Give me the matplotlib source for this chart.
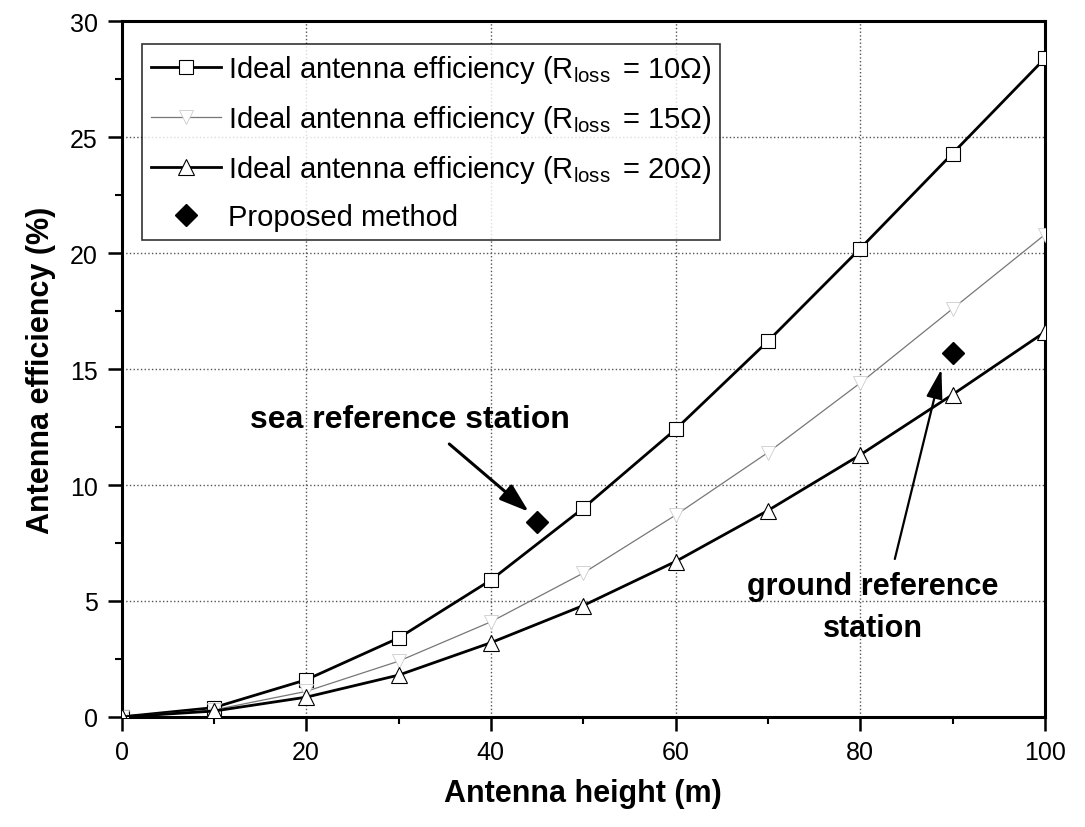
import matplotlib
matplotlib.use("Agg")
import matplotlib.pyplot as plt
from matplotlib.ticker import MultipleLocator

plt.rcParams['font.family'] = ['Liberation Sans', 'DejaVu Sans']
plt.rcParams['mathtext.fontset'] = 'custom'
plt.rcParams['mathtext.rm'] = 'Liberation Sans'
plt.rcParams['mathtext.it'] = 'Liberation Sans'

# antenna height (m)
height = [0, 10, 20, 30, 40, 50, 60, 70, 80, 90, 100]
# efficiency (%)
eff_10 = [0.0, 0.4, 1.6, 3.4, 5.9, 9.0, 12.4, 16.2, 20.2, 24.3, 28.4]
eff_15 = [0.0, 0.3, 1.1, 2.4, 4.1, 6.2, 8.7, 11.4, 14.4, 17.6, 20.8]
eff_20 = [0.0, 0.25, 0.85, 1.8, 3.2, 4.8, 6.7, 8.9, 11.3, 13.9, 16.6]
# proposed method points
prop_h = [45, 90]
prop_eff = [8.4, 15.7]

labels = [r'Ideal antenna efficiency (R$_{\rm loss}\,$ = 10$\Omega$)',
          r'Ideal antenna efficiency (R$_{\rm loss}\,$ = 15$\Omega$)',
          r'Ideal antenna efficiency (R$_{\rm loss}\,$ = 20$\Omega$)',
          'Proposed method']

fig = plt.figure(figsize=(10.85, 8.28), dpi=100)
ax = fig.add_axes([0.112, 0.133, 0.851, 0.840])

ax.plot(height, eff_10, color='black', lw=2.0, marker='s', ms=10,
        mfc='white', mec='black', mew=0.8, label=labels[0], zorder=3)
ax.plot(height, eff_15, color='#777777', lw=0.9, marker='v', ms=10,
        mfc='white', mec='#cccccc', mew=0.6, label=labels[1], zorder=3)
ax.plot(height, eff_20, color='black', lw=2.0, marker='^', ms=11,
        mfc='white', mec='black', mew=0.8, label=labels[2], zorder=3)
ax.plot(prop_h, prop_eff, linestyle='none', marker='D', ms=11,
        color='black', label=labels[3], zorder=4)

ax.set_xlim(0, 100)
ax.set_ylim(0, 30)
ax.xaxis.set_major_locator(MultipleLocator(20))
ax.xaxis.set_minor_locator(MultipleLocator(10))
ax.yaxis.set_major_locator(MultipleLocator(5))
ax.yaxis.set_minor_locator(MultipleLocator(2.5))
ax.tick_params(which='major', direction='out', length=10, width=1.8,
               labelsize=18, pad=7)
ax.tick_params(which='minor', direction='out', length=5, width=1.5)
ax.grid(True, which='major', linestyle=':', color='#555555', lw=1.0)
for s in ax.spines.values():
    s.set_linewidth(2.2)

ax.set_xlabel('Antenna height (m)', fontsize=22, fontweight='bold', labelpad=10)
ax.set_ylabel('Antenna efficiency (%)', fontsize=22, fontweight='bold', labelpad=10)

leg = ax.legend(loc='upper left', bbox_to_anchor=(0.022, 0.967), fontsize=21,
                frameon=True, fancybox=False, edgecolor='black',
                handlelength=2.4, borderpad=0.3, labelspacing=0.62,
                handletextpad=0.25, borderaxespad=0)
leg.get_frame().set_linewidth(1.2)

# annotations
ax.text(31.2, 12.85, 'sea reference station', fontsize=23, fontweight='bold',
        ha='center', va='center')
ax.annotate('', xy=(44.1, 8.85), xytext=(35.5, 11.77),
            arrowprops=dict(arrowstyle='-|>,head_length=0.9,head_width=0.3',
                            color='black', lw=2.2, mutation_scale=20,
                            shrinkA=0, shrinkB=0))
ax.text(81.4, 4.75, 'ground reference\nstation', fontsize=22,
        fontweight='bold', ha='center', va='center', linespacing=1.5)
ax.annotate('', xy=(88.8, 15.0), xytext=(83.75, 6.81),
            arrowprops=dict(arrowstyle='-|>,head_length=0.9,head_width=0.25',
                            color='black', lw=1.6, mutation_scale=20,
                            shrinkA=0, shrinkB=0))

fig.savefig('out.png', dpi=100)
